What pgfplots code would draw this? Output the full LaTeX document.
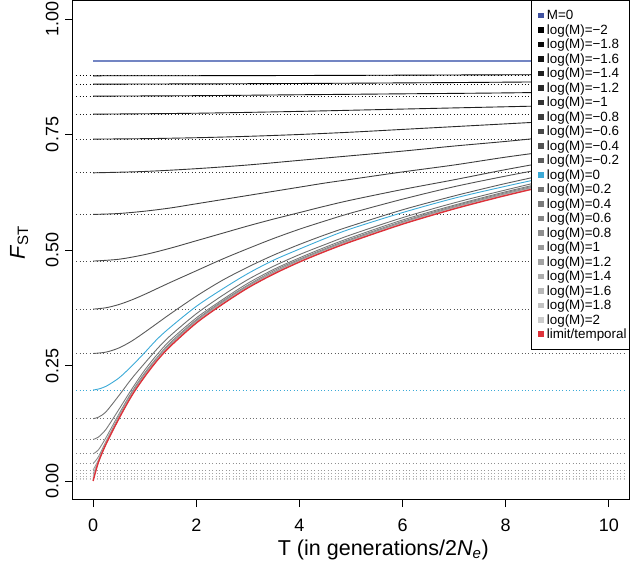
\documentclass[border=0pt]{standalone}
\usepackage{pgfplots}
\pgfplotsset{compat=1.18}
\usepackage{fontspec}
\setmainfont{Liberation Sans}
\definecolor{mzero}{RGB}{115,133,195}
\definecolor{mzeroleg}{RGB}{63,81,160}
\definecolor{cyanM}{RGB}{60,170,215}
\definecolor{redT}{RGB}{222,50,58}
\begin{document}
\begin{tikzpicture}
\useasboundingbox (-72.5bp,-68.5bp) rectangle (557.5bp,499.5bp);
\begin{axis}[
  at={(0,0)}, anchor=south west,
  scale only axis, width=557bp, height=499bp,
  xmin=-0.4, xmax=10.4, ymin=-0.04, ymax=1.04,
  axis line style={line width=0.9bp},
  xtick={0,2,4,6,8,10}, xticklabels={0,2,4,6,8,10},
  ytick={0,0.25,0.5,0.75,1}, yticklabels={0.00,0.25,0.50,0.75,1.00},
  xtick pos=left, ytick pos=left,
  tick align=outside, major tick length=7.5bp,
  every tick/.style={black, line width=0.9bp},
  tick label style={font=\fontsize{18bp}{18bp}\selectfont, inner sep=0pt},
  xticklabel style={anchor=base, yshift=-24bp},
  yticklabel style={xshift=-6.5bp, rotate=90, anchor=base},
  every axis x label/.style={at={(axis description cs:0.558,0)}, yshift=-56bp, anchor=base, font=\fontsize{21.5bp}{21.5bp}\selectfont, inner sep=0pt},
  every axis y label/.style={at={(axis description cs:0,0.515)}, xshift=-47.7bp, rotate=90, anchor=base, font=\fontsize{21.5bp}{21.5bp}\selectfont, inner sep=0pt},
  xlabel={T (in generations/2\textit{N}\textsubscript{\textit{e}})},
  ylabel={\textit{F}\textsubscript{ST}},
  legend cell align=left,
  legend style={at={(rel axis cs:1,1)}, anchor=north east, draw=black, line width=0.9bp, fill=white,
    inner xsep=2.5bp, inner ysep=7.3bp, row sep=0bp, column sep=0bp,
    font=\fontsize{13.4bp}{15bp}\selectfont,
    nodes={inner sep=0pt, text height=11.3bp, text depth=3.2bp}},
  dotl/.style={line width=0.8bp, dash pattern=on 0.9bp off 2.5bp, forget plot},
  curve/.style={line width=0.9bp, smooth, color=#1,
    legend image code/.code={\path (0bp,0bp) (11.6bp,0bp); \fill[#1] (4bp,-2.3bp) rectangle (8.6bp,2.3bp);}},
]
% dotted reference lines at the initial values
\addplot[dotl, black!100] coordinates {(-0.33,0.877) (10.33,0.877)};
\addplot[dotl, black!96] coordinates {(-0.33,0.859) (10.33,0.859)};
\addplot[dotl, black!92] coordinates {(-0.33,0.833) (10.33,0.833)};
\addplot[dotl, black!88] coordinates {(-0.33,0.794) (10.33,0.794)};
\addplot[dotl, black!84] coordinates {(-0.33,0.740) (10.33,0.740)};
\addplot[dotl, black!80] coordinates {(-0.33,0.667) (10.33,0.667)};
\addplot[dotl, black!76] coordinates {(-0.33,0.577) (10.33,0.577)};
\addplot[dotl, black!72] coordinates {(-0.33,0.476) (10.33,0.476)};
\addplot[dotl, black!68] coordinates {(-0.33,0.372) (10.33,0.372)};
\addplot[dotl, black!64] coordinates {(-0.33,0.276) (10.33,0.276)};
\addplot[dotl, cyanM] coordinates {(-0.33,0.197) (10.33,0.197)};
\addplot[dotl, black!56] coordinates {(-0.33,0.135) (10.33,0.135)};
\addplot[dotl, black!52] coordinates {(-0.33,0.090) (10.33,0.090)};
\addplot[dotl, black!48] coordinates {(-0.33,0.059) (10.33,0.059)};
\addplot[dotl, black!44] coordinates {(-0.33,0.038) (10.33,0.038)};
\addplot[dotl, black!40] coordinates {(-0.33,0.024) (10.33,0.024)};
\addplot[dotl, black!36] coordinates {(-0.33,0.0155) (10.33,0.0155)};
\addplot[dotl, black!32] coordinates {(-0.33,0.0099) (10.33,0.0099)};
\addplot[dotl, black!28] coordinates {(-0.33,0.0062) (10.33,0.0062)};
\addplot[dotl, black!24] coordinates {(-0.33,0.0039) (10.33,0.0039)};
\addplot[dotl, black!20] coordinates {(-0.33,0.0025) (10.33,0.0025)};
% curves
\addplot[line width=1.1bp, color=mzero, legend image code/.code={\path (0bp,0bp) (11.6bp,0bp); \fill[mzeroleg] (4bp,-2.3bp) rectangle (8.6bp,2.3bp);}]
  coordinates {(0,0.909) (10,0.909)};
\addlegendentry{M=0}
\addplot[curve=black!100] coordinates {(0,0.877) (2.5,0.8773) (5,0.878) (7.5,0.879) (10,0.880)};
\addlegendentry{log(M)=−2}
\addplot[curve=black!96] coordinates {(0,0.859) (2.5,0.8597) (5,0.861) (7.5,0.8628) (10,0.865)};
\addlegendentry{log(M)=−1.8}
\addplot[curve=black!92] coordinates {(0,0.833) (2,0.834) (4,0.836) (6,0.838) (8,0.840) (10,0.843)};
\addlegendentry{log(M)=−1.6}
\addplot[curve=black!88] coordinates {(0,0.794) (2,0.796) (4,0.800) (6,0.805) (8,0.810) (10,0.815)};
\addlegendentry{log(M)=−1.4}
\addplot[curve=black!84] coordinates {(0,0.740) (1,0.741) (2,0.743) (3,0.746) (4,0.750) (5,0.755) (6,0.761) (7,0.767) (8,0.773) (9,0.779) (10,0.784)};
\addlegendentry{log(M)=−1.2}
\addplot[curve=black!80] coordinates {(0,0.667) (1,0.670) (2,0.676) (3,0.684) (4,0.694) (5,0.704) (6,0.714) (7,0.725) (8,0.735) (9,0.746) (10,0.756)};
\addlegendentry{log(M)=−1}
\addplot[curve=black!76] coordinates {(0,0.577) (0.5,0.579) (1,0.584) (1.5,0.591) (2,0.600) (2.5,0.609) (3,0.618) (3.5,0.627) (4,0.636) (4.5,0.645) (5,0.653) (6,0.669) (7,0.684) (8,0.701) (9,0.716) (10,0.731)};
\addlegendentry{log(M)=−0.8}
\addplot[curve=black!72] coordinates {(0,0.476) (0.5,0.480) (1,0.490) (1.5,0.504) (2,0.520) (2.5,0.536) (3,0.552) (3.5,0.567) (4,0.581) (4.5,0.595) (5,0.608) (6,0.631) (7,0.652) (8,0.674) (9,0.694) (10,0.712)};
\addlegendentry{log(M)=−0.6}
\addplot[curve=black!68] coordinates {(0,0.372) (0.25,0.375) (0.5,0.382) (0.75,0.392) (1,0.404) (1.25,0.417) (1.5,0.430) (2,0.455) (2.5,0.480) (3,0.503) (3.5,0.525) (4,0.545) (4.5,0.563) (5,0.580) (6,0.610) (7,0.637) (8,0.660) (9,0.681) (10,0.700)};
\addlegendentry{log(M)=−0.4}
\addplot[curve=black!64] coordinates {(0,0.276) (0.25,0.279) (0.5,0.288) (0.75,0.303) (1,0.322) (1.25,0.342) (1.5,0.362) (2,0.400) (2.5,0.434) (3,0.463) (3.5,0.489) (4,0.512) (4.5,0.533) (5,0.552) (6,0.587) (7,0.617) (8,0.644) (9,0.668) (10,0.689)};
\addlegendentry{log(M)=−0.2}
\addplot[curve=cyanM] coordinates {(0,0.197) (0.1,0.199) (0.25,0.205) (0.5,0.223) (0.75,0.249) (1,0.278) (1.25,0.308) (1.5,0.333) (2,0.378) (2.5,0.415) (3,0.449) (3.5,0.478) (4,0.502) (4.5,0.525) (5,0.546) (6,0.581) (7,0.612) (8,0.638) (9,0.662) (10,0.683)};
\addlegendentry{log(M)=0}
\addplot[curve=black!56] coordinates {(0,0.135) (0.1,0.138) (0.25,0.150) (0.5,0.185) (0.75,0.222) (1,0.255) (1.25,0.287) (1.5,0.315) (2,0.362) (2.5,0.401) (3,0.436) (3.5,0.465) (4,0.490) (4.5,0.512) (5,0.533) (6,0.570) (7,0.602) (8,0.630) (9,0.656) (10,0.678)};
\addlegendentry{log(M)=0.2}
\addplot[curve=black!52] coordinates {(0,0.090) (0.1,0.095) (0.25,0.112) (0.5,0.155) (0.75,0.199) (1,0.240) (1.25,0.275) (1.5,0.305) (2,0.353) (2.5,0.392) (3,0.428) (3.5,0.458) (4,0.483) (4.5,0.506) (5,0.527) (6,0.565) (7,0.597) (8,0.626) (9,0.652) (10,0.675)};
\addlegendentry{log(M)=0.4}
\addplot[curve=black!48] coordinates {(0,0.059) (0.1,0.067) (0.25,0.094) (0.5,0.145) (0.75,0.193) (1,0.234) (1.25,0.269) (1.5,0.300) (2,0.349) (2.5,0.389) (3,0.424) (3.5,0.455) (4,0.480) (4.5,0.503) (5,0.524) (6,0.562) (7,0.595) (8,0.624) (9,0.650) (10,0.673)};
\addlegendentry{log(M)=0.6}
\addplot[curve=black!44] coordinates {(0,0.038) (0.1,0.052) (0.25,0.086) (0.5,0.140) (0.75,0.190) (1,0.231) (1.25,0.266) (1.5,0.297) (2,0.347) (2.5,0.387) (3,0.422) (3.5,0.452) (4,0.478) (4.5,0.501) (5,0.522) (6,0.560) (7,0.593) (8,0.622) (9,0.648) (10,0.671)};
\addlegendentry{log(M)=0.8}
\addplot[curve=black!40] coordinates {(0,0.024) (0.1,0.045) (0.25,0.083) (0.5,0.138) (0.75,0.188) (1,0.229) (1.25,0.265) (1.5,0.295) (2,0.345) (2.5,0.385) (3,0.421) (3.5,0.451) (4,0.477) (4.5,0.500) (5,0.521) (6,0.559) (7,0.592) (8,0.621) (9,0.647) (10,0.670)};
\addlegendentry{log(M)=1}
\addplot[curve=black!36] coordinates {(0,0.0155) (0.1,0.042) (0.25,0.082) (0.5,0.137) (0.75,0.187) (1,0.228) (1.25,0.264) (1.5,0.294) (2,0.344) (2.5,0.384) (3,0.420) (3.5,0.450) (4,0.476) (4.5,0.499) (5,0.520) (6,0.558) (7,0.591) (8,0.620) (9,0.646) (10,0.669)};
\addlegendentry{log(M)=1.2}
\addplot[curve=black!32] coordinates {(0,0.0099) (0.1,0.041) (0.25,0.0815) (0.5,0.1365) (0.75,0.1865) (1,0.2275) (1.25,0.2635) (1.5,0.2935) (2,0.3435) (2.5,0.3835) (3,0.4195) (3.5,0.4495) (4,0.4755) (4.5,0.4985) (5,0.5195) (6,0.5575) (7,0.5905) (8,0.6195) (9,0.6455) (10,0.6685)};
\addlegendentry{log(M)=1.4}
\addplot[curve=black!28] coordinates {(0,0.0062) (0.1,0.0405) (0.25,0.081) (0.5,0.136) (0.75,0.186) (1,0.227) (1.25,0.263) (1.5,0.293) (2,0.343) (2.5,0.383) (3,0.419) (3.5,0.449) (4,0.475) (4.5,0.498) (5,0.519) (6,0.557) (7,0.590) (8,0.619) (9,0.645) (10,0.668)};
\addlegendentry{log(M)=1.6}
\addplot[curve=black!24] coordinates {(0,0.0039) (0.1,0.0402) (0.25,0.0807) (0.5,0.1357) (0.75,0.1857) (1,0.2267) (1.25,0.2627) (1.5,0.2927) (2,0.3427) (2.5,0.3827) (3,0.4187) (3.5,0.4487) (4,0.4747) (4.5,0.4977) (5,0.5187) (6,0.5567) (7,0.5897) (8,0.6187) (9,0.6447) (10,0.6677)};
\addlegendentry{log(M)=1.8}
\addplot[curve=black!20] coordinates {(0,0.0025) (0.1,0.0401) (0.25,0.0805) (0.5,0.1355) (0.75,0.1855) (1,0.2265) (1.25,0.2625) (1.5,0.2925) (2,0.3425) (2.5,0.3825) (3,0.4185) (3.5,0.4485) (4,0.4745) (4.5,0.4975) (5,0.5185) (6,0.5565) (7,0.5895) (8,0.6185) (9,0.6445) (10,0.6675)};
\addlegendentry{log(M)=2}
\addplot[curve=redT, line width=1.4bp] coordinates {(0,0) (0.1,0.040) (0.25,0.080) (0.5,0.135) (0.75,0.185) (1,0.226) (1.25,0.262) (1.5,0.292) (2,0.342) (2.5,0.382) (3,0.418) (3.5,0.448) (4,0.474) (4.5,0.497) (5,0.518) (6,0.556) (7,0.589) (8,0.618) (9,0.644) (10,0.667)};
\addlegendentry{limit/temporal}
\end{axis}
\end{tikzpicture}
\end{document}
